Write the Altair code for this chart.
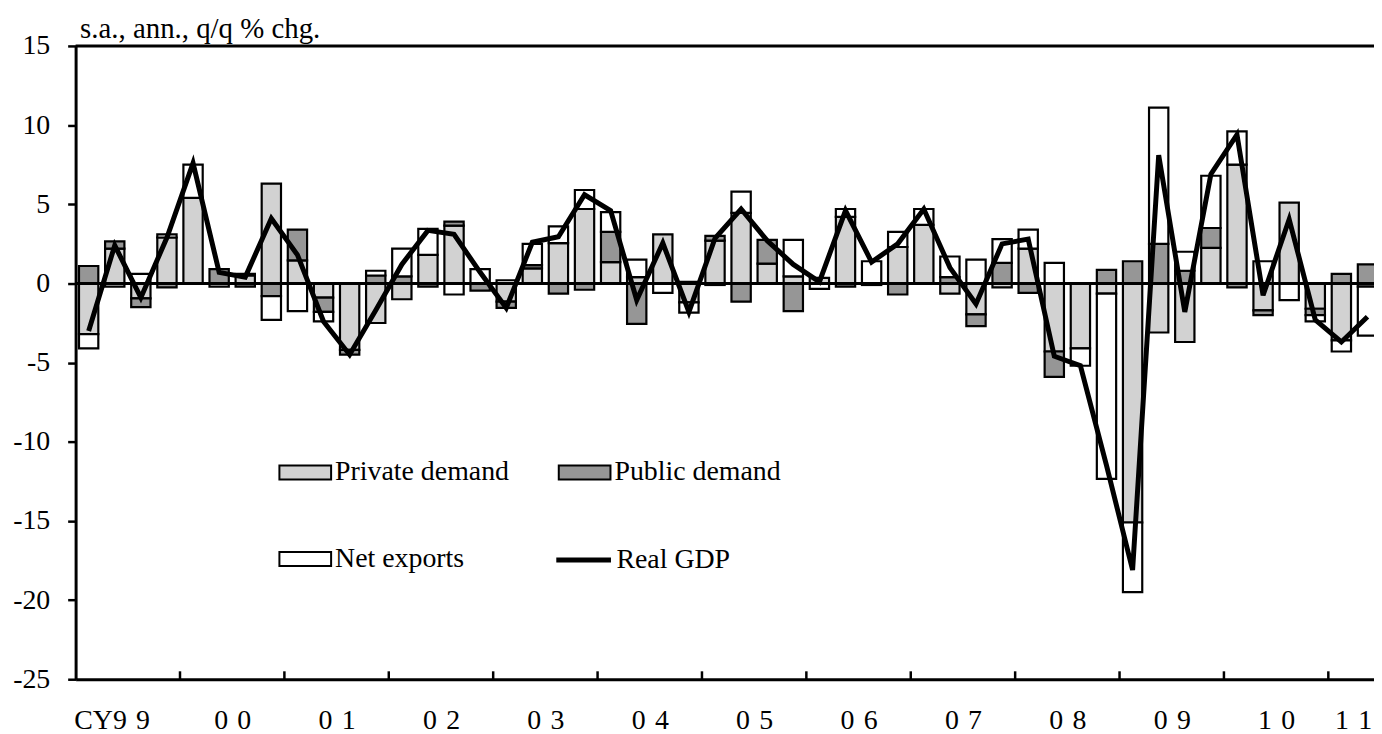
import altair as alt
import pandas as pd

# 1999Q1 .. 2011Q2 (50 quarters), contributions to real GDP growth, s.a. ann. q/q % chg.
private = [-3.2, 2.2, -0.95, 2.9, 5.4, 0.0, 0.5, 6.3, 1.45, -0.9,
           -4.2, -2.5, -1.0, 1.8, 3.65, 0.0, -1.15, 0.95, 2.55, 4.7,
           1.35, 0.4, 3.1, -1.2, 2.7, 4.45, 1.25, 0.45, 0.35, 4.2,
           0.0, 2.3, 3.7, -0.65, -1.95, -0.25, 2.2, -4.3, -4.1, -0.65,
           -15.1, -3.1, -3.7, 2.25, 7.5, -1.7, 5.1, -1.6, -3.6, -0.2]
public = [1.1, 0.45, -0.55, -0.25, 0.0, 0.9, -0.2, -0.8, 1.95, -0.9,
          -0.3, 0.5, 0.45, -0.2, 0.25, -0.45, -0.4, 0.2, -0.65, -0.4,
          1.9, -2.55, 0.0, 0.1, 0.3, -1.15, 1.5, -1.75, 0.0, -0.2,
          -0.1, -0.7, 0.0, 0.4, -0.75, 1.3, -0.6, -1.6, 0.0, 0.85,
          1.4, 2.5, 0.8, 1.25, -0.25, -0.3, 0.0, -0.4, 0.6, 1.2]
net_exports = [-0.9, -0.2, 0.6, 0.2, 2.1, -0.2, 0.1, -1.5, -1.75, -0.6,
               0.0, 0.3, 1.75, 1.65, -0.7, 0.9, 0.2, 1.35, 1.05, 1.2,
               1.25, 1.1, -0.6, -0.65, -0.1, 1.35, 0.0, 2.3, -0.35, 0.5,
               1.4, 0.95, 1.0, 1.3, 1.5, 1.5, 1.2, 1.3, -1.1, -11.7,
               -4.4, 8.6, 1.2, 3.3, 2.1, 1.4, -1.05, -0.4, -0.7, -3.1]
real_gdp = [-3.0, 2.4, -0.9, 2.9, 7.6, 0.7, 0.4, 4.1, 1.8, -2.4,
            -4.5, -1.7, 1.2, 3.35, 3.1, 0.7, -1.55, 2.6, 2.95, 5.6,
            4.6, -1.05, 2.55, -1.8, 2.85, 4.7, 2.7, 1.2, 0.1, 4.6,
            1.35, 2.5, 4.7, 1.0, -1.3, 2.5, 2.8, -4.6, -5.2, -11.5,
            -18.1, 8.1, -1.8, 6.9, 9.4, -0.75, 4.05, -2.3, -3.7, -2.1]

series_names = ["Private demand", "Public demand", "Net exports"]
series_fills = ["#d2d2d2", "#969696", "#ffffff"]
gdp_name = "Real GDP"
y_title = "s.a., ann., q/q % chg."

year_labels = ["CY9\u20049", "0\u20040", "0\u20041", "0\u20042", "0\u20043", "0\u20044",
               "0\u20045", "0\u20046", "0\u20047", "0\u20048", "0\u20049", "1\u20040", "1\u20041"]
year_label_pos = [1.38, 6, 10, 14, 18, 22, 26, 30, 34, 38, 42, 46, 48.95]
year_bounds = [4, 8, 12, 16, 20, 24, 28, 32, 36, 40, 44, 48]
y_ticks = [-25, -20, -15, -10, -5, 0, 5, 10, 15]

FONT = "Liberation Serif"
FS = 28

# stacked bar table (Excel-style: positives up, negatives down, in series order)
rows = []
for i in range(len(real_gdp)):
    pos, neg = 0.0, 0.0
    for k, arr in enumerate([private, public, net_exports]):
        v = arr[i]
        if v == 0:
            continue
        if v > 0:
            y0, y1 = pos, pos + v
            pos = y1
        else:
            y0, y1 = neg, neg + v
            neg = y1
        rows.append({"q": i, "series": series_names[k], "order": k,
                     "y0": y0, "y1": y1})
bars_df = pd.DataFrame(rows)
bars_df["xa"] = bars_df["q"] + 0.13
bars_df["xb"] = bars_df["q"] + 0.87

gdp_df = pd.DataFrame({"q": list(range(len(real_gdp))), "gdp": real_gdp})
gdp_df["xm"] = gdp_df["q"] + 0.5
gdp_df["name"] = gdp_name

bounds_df = pd.DataFrame({"b": year_bounds})

x_scale = alt.Scale(domain=[0, 49.75], nice=False, zero=False)
y_scale = alt.Scale(domain=[-25, 15], nice=False, zero=False)

pos_list = ",".join(str(v) for v in year_label_pos)
lab_list = ",".join("'" + s + "'" for s in year_labels)
label_expr = f"[{lab_list}][indexof([{pos_list}], datum.value)]"

bars = alt.Chart(bars_df).mark_rect(stroke="black", strokeWidth=2.2, clip=True).encode(
    x=alt.X("xa:Q", scale=x_scale, axis=alt.Axis(
        values=year_label_pos, labelExpr=label_expr, ticks=False, grid=False, title=None,
        labelPadding=50, labelBaseline="alphabetic", labelFontSize=FS, labelFont=FONT,
        labelColor="black", domainWidth=3, domainColor="black",
        labelFlush=False, labelOverlap=False, labelBound=False)),
    x2="xb:Q",
    y=alt.Y("y0:Q", scale=y_scale, axis=alt.Axis(
        values=y_ticks, labelExpr="'' + datum.value", tickSize=8, tickWidth=2.5,
        tickColor="black", domainWidth=3, domainColor="black", labelPadding=18,
        labelFontSize=FS, labelFont=FONT, labelColor="black", grid=False,
        title=y_title, titleAngle=0, titleX=4, titleY=-8, titleAlign="left",
        titleBaseline="alphabetic", titleFont=FONT, titleFontSize=29,
        titleFontWeight="normal", titleColor="black")),
    y2="y1:Q",
    fill=alt.Fill("series:N", scale=alt.Scale(domain=series_names, range=series_fills),
                  legend=alt.Legend(
                      orient="none", legendX=204, legendY=402, columns=2,
                      direction="horizontal", title=None,
                      symbolType="M-1,-0.27L1,-0.27L1,0.27L-1,0.27Z", symbolSize=2704,
                      symbolStrokeColor="black", symbolStrokeWidth=2, symbolOpacity=1,
                      labelFont=FONT, labelFontSize=FS, labelColor="black", labelOffset=3,
                      columnPadding=46, rowPadding=46, padding=0, labelLimit=400)),
    order=alt.Order("order:Q"),
)

zero_line = alt.Chart(pd.DataFrame({"z": [0]})).mark_rule(color="black", strokeWidth=3).encode(
    y=alt.Y("z:Q", scale=y_scale))

top_line = alt.Chart(pd.DataFrame({"t": [15]})).mark_rule(color="black", strokeWidth=3).encode(
    y=alt.Y("t:Q", scale=y_scale))

year_ticks = alt.Chart(bounds_df).mark_rule(color="black", strokeWidth=2.5).encode(
    x=alt.X("b:Q", scale=x_scale),
    y=alt.datum(-25),
    y2=alt.datum(-24.5),
)

gdp_line = alt.Chart(gdp_df).mark_line(strokeWidth=5, strokeJoin="miter", clip=True).encode(
    x=alt.X("xm:Q", scale=x_scale),
    y=alt.Y("gdp:Q", scale=y_scale),
    stroke=alt.Stroke("name:N", scale=alt.Scale(domain=[gdp_name], range=["black"]),
                      legend=alt.Legend(
                          orient="none", legendX=481, legendY=487, title=None,
                          symbolType="stroke", symbolSize=3025, symbolStrokeWidth=5,
                          labelFont=FONT, labelFontSize=FS, labelColor="black",
                          labelOffset=3, padding=0, labelLimit=400)),
)

chart = alt.layer(bars, year_ticks, zero_line, top_line, gdp_line).resolve_legend(
    fill="independent", stroke="independent"
).properties(
    width=1306,
    height=637,
    autosize=alt.AutoSizeParams(type="none"),
    padding={"left": 68, "top": 36, "right": 0, "bottom": 62},
).configure(font=FONT).configure_view(stroke=None)

chart.save("out.html", embed_options={"renderer": "svg", "actions": False})
